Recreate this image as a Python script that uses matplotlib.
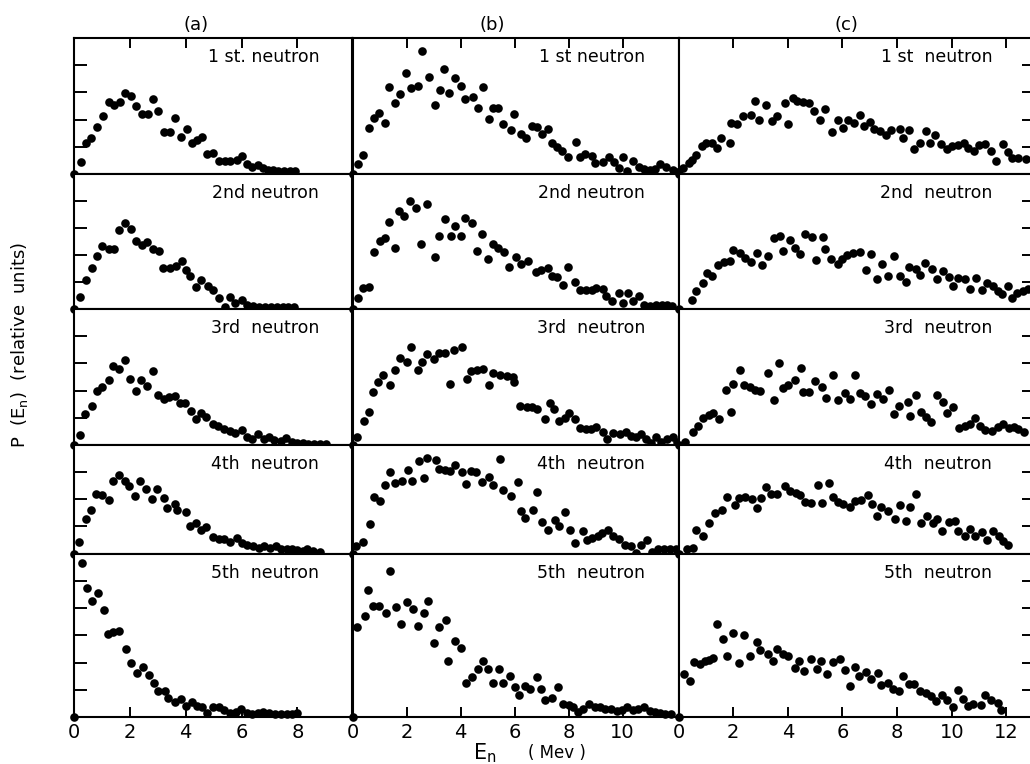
import numpy as np
import matplotlib.pyplot as plt

# neutron energy spectra, (E_n [MeV], P(E_n) [tick units]) per panel
# column (a)
a1 = [(0, 0), (0.24, 0.45), (0.44, 1.15), (0.62, 1.31), (0.84, 1.74), (1.04, 2.15), (1.24, 2.66), (1.44, 2.54),
      (1.65, 2.63), (1.83, 2.99), (2.04, 2.85), (2.22, 2.50), (2.42, 2.20), (2.64, 2.20), (2.82, 2.75), (3.02, 2.32),
      (3.21, 1.56), (3.42, 1.56), (3.62, 2.05), (3.84, 1.35), (4.05, 1.64), (4.23, 1.13), (4.41, 1.25), (4.59, 1.37),
      (4.76, 0.72), (4.98, 0.79), (5.19, 0.49), (5.40, 0.48), (5.60, 0.49), (5.82, 0.52), (6.00, 0.66), (6.18, 0.36),
      (6.39, 0.27), (6.59, 0.33), (6.77, 0.21), (6.95, 0.15), (7.13, 0.15), (7.31, 0.12), (7.52, 0.12), (7.73, 0.10),
      (7.91, 0.10)]
a2 = [(0, 0), (0.20, 0.43), (0.44, 1.08), (0.64, 1.53), (0.84, 1.95), (1.02, 2.32), (1.24, 2.24), (1.44, 2.21),
      (1.62, 2.92), (1.82, 3.19), (2.04, 2.96), (2.22, 2.51), (2.42, 2.36), (2.60, 2.48), (2.82, 2.21), (3.03, 2.15),
      (3.20, 1.53), (3.42, 1.53), (3.66, 1.59), (3.87, 1.78), (4.02, 1.45), (4.17, 1.22), (4.38, 0.81), (4.56, 1.08),
      (4.80, 0.87), (4.98, 0.71), (5.18, 0.40), (5.40, 0.09), (5.58, 0.43), (5.78, 0.21), (6.00, 0.34), (6.21, 0.16),
      (6.41, 0.12), (6.62, 0.09), (6.83, 0.06), (7.04, 0.06), (7.25, 0.06), (7.47, 0.06), (7.67, 0.06), (7.88, 0.06)]
a3 = [(0, 0), (0.22, 0.37), (0.40, 1.14), (0.66, 1.44), (0.82, 2.00), (1.00, 2.12), (1.24, 2.39), (1.38, 2.91),
      (1.62, 2.79), (1.83, 3.13), (2.00, 2.43), (2.22, 2.00), (2.40, 2.39), (2.61, 2.18), (2.82, 2.72), (3.02, 1.84),
      (3.21, 1.69), (3.39, 1.78), (3.60, 1.80), (3.80, 1.53), (3.98, 1.53), (4.20, 1.26), (4.38, 0.96), (4.53, 1.17),
      (4.74, 1.04), (4.98, 0.76), (5.16, 0.70), (5.37, 0.58), (5.58, 0.53), (5.78, 0.43), (6.00, 0.55), (6.18, 0.31),
      (6.39, 0.21), (6.57, 0.40), (6.80, 0.21), (6.98, 0.31), (7.17, 0.18), (7.40, 0.15), (7.59, 0.27), (7.79, 0.12),
      (7.97, 0.09), (8.19, 0.06), (8.39, 0.04), (8.60, 0.04), (8.81, 0.02), (9.02, 0.04)]
a4 = [(0, 0), (0.18, 0.42), (0.42, 1.29), (0.62, 1.60), (0.80, 2.21), (1.02, 2.17), (1.26, 1.99), (1.40, 2.69),
      (1.62, 2.91), (1.82, 2.69), (1.98, 2.48), (2.19, 2.13), (2.37, 2.69), (2.58, 2.39), (2.78, 2.01), (2.96, 2.38),
      (3.21, 2.05), (3.32, 1.66), (3.60, 1.84), (3.69, 1.60), (4.02, 1.53), (4.17, 1.03), (4.35, 1.13), (4.56, 0.85),
      (4.74, 0.97), (4.98, 0.60), (5.19, 0.54), (5.37, 0.52), (5.60, 0.42), (5.82, 0.58), (6.00, 0.39), (6.20, 0.33),
      (6.41, 0.27), (6.62, 0.21), (6.81, 0.27), (7.01, 0.21), (7.23, 0.29), (7.40, 0.15), (7.61, 0.15), (7.79, 0.15),
      (7.97, 0.12), (8.19, 0.09), (8.33, 0.17), (8.57, 0.09), (8.79, 0.06)]
a5 = [(0, 0), (0.28, 5.64), (0.45, 4.72), (0.63, 4.24), (0.85, 4.54), (1.07, 3.93), (1.23, 3.03), (1.41, 3.12),
      (1.62, 3.15), (1.86, 2.48), (2.03, 1.97), (2.24, 1.63), (2.48, 1.85), (2.69, 1.55), (2.87, 1.25), (2.99, 0.94),
      (3.24, 0.97), (3.38, 0.70), (3.62, 0.54), (3.83, 0.67), (4.00, 0.42), (4.21, 0.54), (4.39, 0.40), (4.60, 0.36),
      (4.75, 0.16), (4.99, 0.38), (5.19, 0.36), (5.37, 0.25), (5.59, 0.16), (5.79, 0.18), (5.98, 0.28), (6.19, 0.13),
      (6.39, 0.12), (6.60, 0.16), (6.78, 0.19), (6.98, 0.13), (7.20, 0.12), (7.40, 0.12), (7.62, 0.12), (7.82, 0.12),
      (7.98, 0.13)]

# column (b)
b1 = [(0, 0), (0.19, 0.37), (0.38, 0.70), (0.62, 1.70), (0.78, 2.07), (0.97, 2.26), (1.19, 1.89), (1.36, 3.19),
      (1.56, 2.62), (1.77, 2.94), (1.99, 3.73), (2.18, 3.17), (2.43, 3.25), (2.57, 4.51), (2.82, 3.56), (3.04, 2.53),
      (3.23, 3.09), (3.40, 3.86), (3.56, 2.96), (3.81, 3.54), (4.03, 3.23), (4.18, 2.74), (4.47, 2.84), (4.65, 2.41),
      (4.84, 3.19), (5.05, 2.04), (5.20, 2.41), (5.40, 2.41), (5.57, 1.83), (5.85, 1.63), (5.98, 2.22), (6.23, 1.46),
      (6.44, 1.33), (6.64, 1.77), (6.84, 1.73), (7.00, 1.46), (7.22, 1.64), (7.40, 1.14), (7.59, 0.99), (7.77, 0.83),
      (7.99, 0.64), (8.27, 1.17), (8.42, 0.64), (8.61, 0.74), (8.86, 0.68), (8.99, 0.40), (9.28, 0.43), (9.51, 0.64),
      (9.69, 0.43), (9.88, 0.21), (10.02, 0.64), (10.15, 0.12), (10.37, 0.49), (10.59, 0.27), (10.80, 0.19),
      (11.01, 0.15), (11.21, 0.19), (11.39, 0.37), (11.61, 0.25), (11.86, 0.15), (12.00, 0.06)]
b2 = [(0, 0), (0.19, 0.40), (0.38, 0.77), (0.62, 0.80), (0.80, 2.10), (1.03, 2.53), (1.21, 2.63), (1.34, 3.21),
      (1.58, 2.26), (1.71, 3.62), (1.89, 3.46), (2.12, 4.01), (2.35, 3.74), (2.55, 2.41), (2.76, 3.89), (3.04, 1.94),
      (3.22, 2.72), (3.42, 3.33), (3.63, 2.72), (3.79, 3.09), (4.03, 2.72), (4.18, 3.37), (4.41, 3.17), (4.62, 2.14),
      (4.80, 2.78), (5.02, 1.85), (5.20, 2.41), (5.40, 2.26), (5.61, 2.10), (5.79, 1.54), (6.04, 1.94), (6.23, 1.67),
      (6.51, 1.79), (6.78, 1.36), (6.97, 1.44), (7.25, 1.52), (7.40, 1.23), (7.59, 1.20), (7.80, 0.90), (7.99, 1.54),
      (8.24, 1.01), (8.42, 0.70), (8.64, 0.70), (8.86, 0.70), (9.01, 0.78), (9.26, 0.74), (9.38, 0.49), (9.60, 0.31),
      (9.85, 0.58), (10.02, 0.22), (10.19, 0.58), (10.40, 0.31), (10.62, 0.49), (10.80, 0.16), (11.01, 0.12),
      (11.24, 0.15), (11.46, 0.16), (11.63, 0.15), (11.83, 0.12)]
b3 = [(0, 0), (0.17, 0.31), (0.42, 0.90), (0.62, 1.20), (0.77, 1.94), (0.95, 2.31), (1.14, 2.59), (1.39, 2.22),
      (1.57, 2.75), (1.76, 3.21), (2.03, 3.05), (2.17, 3.60), (2.41, 2.75), (2.56, 3.05), (2.77, 3.33), (3.02, 3.15),
      (3.21, 3.40), (3.43, 3.40), (3.61, 2.25), (3.74, 3.49), (4.05, 3.60), (4.23, 2.41), (4.39, 2.72), (4.60, 2.74),
      (4.83, 2.81), (5.07, 2.19), (5.20, 2.63), (5.47, 2.59), (5.72, 2.52), (5.94, 2.49), (5.99, 2.33), (6.21, 1.44),
      (6.46, 1.39), (6.65, 1.39), (6.83, 1.31), (7.14, 0.96), (7.33, 1.54), (7.45, 1.31), (7.64, 0.90), (7.85, 0.98),
      (8.03, 1.17), (8.25, 0.96), (8.42, 0.64), (8.63, 0.59), (8.84, 0.59), (9.03, 0.68), (9.27, 0.46), (9.43, 0.21),
      (9.65, 0.44), (9.90, 0.41), (10.11, 0.49), (10.30, 0.33), (10.48, 0.31), (10.67, 0.41), (10.85, 0.21),
      (11.06, 0.06), (11.22, 0.31), (11.44, 0.12), (11.66, 0.21), (11.88, 0.31), (12.03, 0.12)]
b4 = [(0, 0), (0.12, 0.27), (0.40, 0.42), (0.64, 1.10), (0.79, 2.09), (1.01, 1.93), (1.20, 2.54), (1.39, 3.01),
      (1.57, 2.60), (1.82, 2.69), (2.07, 3.07), (2.19, 2.69), (2.48, 3.40), (2.63, 2.79), (2.77, 3.52), (3.09, 3.44),
      (3.22, 3.13), (3.43, 3.09), (3.61, 3.03), (3.80, 3.28), (4.05, 3.01), (4.21, 2.56), (4.39, 3.03), (4.58, 2.99),
      (4.79, 2.63), (5.04, 2.82), (5.22, 2.54), (5.47, 3.48), (5.59, 2.33), (5.88, 2.11), (6.11, 2.64), (6.25, 1.56),
      (6.37, 1.31), (6.67, 1.60), (6.83, 2.27), (7.02, 1.17), (7.23, 0.88), (7.49, 1.25), (7.66, 1.03), (7.85, 1.53),
      (8.07, 0.85), (8.23, 0.37), (8.54, 0.82), (8.69, 0.49), (8.87, 0.58), (9.08, 0.64), (9.25, 0.76), (9.46, 0.85),
      (9.65, 0.66), (9.86, 0.52), (10.09, 0.33), (10.30, 0.27), (10.48, 0.02), (10.67, 0.33), (10.89, 0.49),
      (11.10, 0.05), (11.31, 0.15), (11.53, 0.17), (11.76, 0.18), (11.97, 0.17)]
b5 = [(0, 0), (0.17, 3.32), (0.45, 3.69), (0.58, 4.65), (0.76, 4.06), (0.98, 4.06), (1.23, 3.81), (1.40, 5.35),
      (1.60, 4.03), (1.78, 3.42), (2.02, 4.22), (2.23, 3.96), (2.42, 3.35), (2.63, 3.81), (2.79, 4.27), (3.01, 2.73),
      (3.19, 3.30), (3.46, 3.57), (3.52, 2.07), (3.80, 2.80), (4.01, 2.52), (4.20, 1.23), (4.44, 1.45), (4.63, 1.75),
      (4.85, 2.05), (5.03, 1.75), (5.21, 1.23), (5.42, 1.75), (5.57, 1.23), (5.83, 1.50), (6.00, 1.11), (6.16, 0.80),
      (6.37, 1.13), (6.59, 1.02), (6.83, 1.48), (6.98, 1.01), (7.14, 0.64), (7.39, 0.68), (7.60, 1.11), (7.79, 0.46),
      (8.00, 0.43), (8.18, 0.37), (8.34, 0.18), (8.55, 0.31), (8.76, 0.46), (8.96, 0.37), (9.17, 0.37), (9.35, 0.31),
      (9.57, 0.31), (9.78, 0.22), (9.96, 0.25), (10.18, 0.37), (10.39, 0.25), (10.58, 0.31), (10.80, 0.37),
      (11.01, 0.22), (11.21, 0.18), (11.37, 0.15), (11.58, 0.12), (11.80, 0.12)]

# column (c)
c1 = [(0, 0), (0.18, 0.22), (0.37, 0.40), (0.49, 0.53), (0.65, 0.69), (0.85, 1.02), (1.01, 1.14), (1.22, 1.14),
      (1.40, 0.96), (1.56, 1.32), (1.87, 1.14), (1.93, 1.88), (2.13, 1.84), (2.35, 2.12), (2.66, 2.16), (2.80, 2.67),
      (2.96, 2.00), (3.21, 2.52), (3.41, 1.94), (3.60, 2.12), (3.88, 2.61), (4.02, 1.84), (4.18, 2.79), (4.35, 2.70),
      (4.57, 2.65), (4.79, 2.61), (4.96, 2.33), (5.18, 2.00), (5.37, 2.40), (5.63, 1.54), (5.85, 1.97), (6.01, 1.69),
      (6.22, 2.00), (6.43, 1.88), (6.65, 2.18), (6.80, 1.75), (7.01, 1.91), (7.16, 1.67), (7.38, 1.57), (7.60, 1.45),
      (7.77, 1.63), (8.09, 1.67), (8.23, 1.32), (8.45, 1.63), (8.63, 0.92), (8.84, 1.14), (9.06, 1.59), (9.21, 1.14),
      (9.39, 1.42), (9.60, 1.10), (9.82, 0.92), (10.00, 1.02), (10.21, 1.05), (10.43, 1.14), (10.61, 0.96),
      (10.83, 0.83), (11.01, 1.05), (11.22, 1.10), (11.43, 0.83), (11.62, 0.47), (11.87, 1.10), (12.04, 0.81),
      (12.20, 0.59), (12.44, 0.59), (12.72, 0.56)]
c2 = [(0, 0), (0.51, 0.34), (0.65, 0.68), (0.89, 0.95), (1.04, 1.32), (1.24, 1.22), (1.44, 1.62), (1.65, 1.74),
      (1.87, 1.78), (1.99, 2.17), (2.26, 2.07), (2.44, 1.90), (2.66, 1.74), (2.89, 2.07), (3.05, 1.62), (3.27, 1.95),
      (3.48, 2.63), (3.72, 2.72), (3.82, 2.15), (4.09, 2.56), (4.27, 2.27), (4.43, 2.02), (4.63, 2.78), (4.88, 2.66),
      (5.04, 1.80), (5.28, 2.68), (5.37, 2.23), (5.59, 1.87), (5.85, 1.68), (5.98, 1.87), (6.16, 1.99), (6.38, 2.07),
      (6.65, 2.11), (6.87, 1.46), (7.05, 2.02), (7.28, 1.10), (7.44, 1.68), (7.68, 1.22), (7.89, 1.95), (8.11, 1.22),
      (8.33, 1.01), (8.45, 1.56), (8.70, 1.50), (8.84, 1.26), (9.02, 1.71), (9.27, 1.50), (9.45, 1.10), (9.67, 1.41),
      (9.88, 1.20), (10.06, 0.85), (10.24, 1.13), (10.49, 1.10), (10.67, 0.73), (10.89, 1.13), (11.10, 0.71),
      (11.28, 0.95), (11.50, 0.85), (11.68, 0.65), (11.85, 0.56), (12.07, 0.85), (12.20, 0.40), (12.38, 0.59),
      (12.62, 0.65), (12.77, 0.73)]
c3 = [(0, 0), (0.24, 0.12), (0.52, 0.46), (0.73, 0.70), (0.91, 0.99), (1.10, 1.11), (1.28, 1.17), (1.50, 0.95),
      (1.74, 2.04), (1.93, 1.23), (1.99, 2.26), (2.26, 2.75), (2.40, 2.22), (2.60, 2.14), (2.80, 2.04), (2.99, 1.98),
      (3.29, 2.63), (3.50, 1.67), (3.66, 3.02), (3.84, 2.10), (4.02, 2.22), (4.27, 2.38), (4.49, 2.84), (4.57, 1.94),
      (4.79, 1.94), (5.00, 2.35), (5.24, 2.14), (5.40, 1.73), (5.67, 2.56), (5.85, 1.67), (6.10, 1.91), (6.28, 1.69),
      (6.46, 2.59), (6.65, 1.91), (6.83, 1.81), (7.05, 1.52), (7.26, 1.89), (7.50, 1.69), (7.71, 2.01), (7.87, 1.14),
      (8.05, 1.44), (8.38, 1.57), (8.48, 1.05), (8.70, 1.85), (8.87, 1.23), (9.06, 1.02), (9.23, 0.83), (9.45, 1.85),
      (9.67, 1.57), (9.84, 1.17), (10.06, 1.40), (10.28, 0.64), (10.49, 0.70), (10.67, 0.78), (10.85, 0.99),
      (11.04, 0.70), (11.22, 0.56), (11.46, 0.53), (11.68, 0.65), (11.89, 0.78), (12.11, 0.62), (12.26, 0.65),
      (12.44, 0.58), (12.65, 0.49)]
c4 = [(0, 0), (0.30, 0.16), (0.52, 0.22), (0.65, 0.86), (0.91, 0.65), (1.13, 1.11), (1.34, 1.48), (1.59, 1.60),
      (1.79, 2.10), (2.07, 1.80), (2.20, 2.05), (2.44, 2.07), (2.68, 2.01), (2.87, 1.68), (3.01, 2.05), (3.21, 2.47),
      (3.38, 2.20), (3.62, 2.20), (3.88, 2.48), (4.09, 2.32), (4.30, 2.22), (4.45, 2.17), (4.63, 1.89), (4.84, 1.85),
      (5.09, 2.53), (5.24, 1.85), (5.52, 2.59), (5.67, 2.10), (5.85, 1.89), (6.01, 1.83), (6.26, 1.70), (6.46, 1.95),
      (6.67, 1.98), (6.95, 2.14), (7.07, 1.83), (7.28, 1.40), (7.40, 1.70), (7.68, 1.56), (7.93, 1.27), (8.11, 1.80),
      (8.33, 1.21), (8.48, 1.73), (8.70, 2.20), (8.87, 1.11), (9.09, 1.40), (9.30, 1.11), (9.45, 1.27), (9.63, 0.84),
      (9.88, 1.15), (10.12, 1.21), (10.24, 0.84), (10.49, 0.65), (10.67, 0.90), (10.85, 0.65), (11.10, 0.78),
      (11.28, 0.49), (11.50, 0.84), (11.71, 0.65), (11.89, 0.47), (12.07, 0.32)]
c5 = [(0, 0), (0.21, 1.59), (0.43, 1.32), (0.55, 2.02), (0.79, 1.96), (0.97, 2.06), (1.13, 2.11), (1.25, 2.17),
      (1.40, 3.43), (1.62, 2.88), (1.76, 2.23), (2.01, 3.08), (2.23, 1.98), (2.40, 3.02), (2.62, 2.23), (2.86, 2.75),
      (3.00, 2.47), (3.28, 2.33), (3.44, 2.06), (3.59, 2.51), (3.81, 2.33), (4.01, 2.23), (4.26, 1.80), (4.42, 2.06),
      (4.59, 1.68), (4.83, 2.14), (5.05, 1.77), (5.23, 2.06), (5.44, 1.59), (5.66, 2.02), (5.90, 2.14), (6.11, 1.74),
      (6.27, 1.13), (6.45, 1.84), (6.61, 1.49), (6.87, 1.65), (7.06, 1.41), (7.30, 1.62), (7.42, 1.16), (7.66, 1.25),
      (7.85, 1.04), (8.07, 0.94), (8.21, 1.49), (8.43, 1.22), (8.61, 1.20), (8.82, 0.95), (9.04, 0.88), (9.25, 0.76),
      (9.43, 0.58), (9.65, 0.80), (9.82, 0.64), (10.04, 0.37), (10.22, 0.98), (10.40, 0.67), (10.58, 0.39),
      (10.79, 0.49), (11.07, 0.43), (11.23, 0.80), (11.44, 0.64), (11.68, 0.51), (11.80, 0.24)]

panels = [[a1, a2, a3, a4, a5], [b1, b2, b3, b4, b5], [c1, c2, c3, c4, c5]]

col_titles = ["(a)", "(b)", "(c)"]
row_labels = [
    ["1 st. neutron", "2nd neutron", "3rd  neutron", "4th  neutron", "5th  neutron"],
    ["1 st neutron", "2nd neutron", "3rd  neutron", "4th  neutron", "5th  neutron"],
    ["1 st  neutron", "2nd  neutron", "3rd  neutron", "4th  neutron", "5th  neutron"],
]
col_xmax = [9.97, 12.07, 13.0]
col_xticks = [[0, 2, 4, 6, 8], [0, 2, 4, 6, 8, 10], [0, 2, 4, 6, 8, 10, 12]]
row_ymax = [5, 5, 5, 4, 6]

W, H = 1030, 764
col_left = [74, 352.5, 678.5]
col_right = [352.5, 678.5, 1033.8]
row_top = [38, 174, 309, 445, 553.5]
row_bot = [174, 309, 445, 553.5, 717]
title_x = [196, 492, 846]

fig = plt.figure(figsize=(W / 100, H / 100), dpi=100)

for c in range(3):
    for r in range(5):
        l, rr = col_left[c], col_right[c]
        t, b = row_top[r], row_bot[r]
        ax = fig.add_axes([l / W, 1 - b / H, (rr - l) / W, (b - t) / H])
        pts = np.array(panels[c][r])
        ax.plot(pts[:, 0], pts[:, 1], 'o', color='black', ms=6.2, mew=0, clip_on=False, zorder=3)
        ax.set_xlim(0, col_xmax[c])
        ax.set_ylim(0, row_ymax[r])
        for s in ax.spines.values():
            s.set_linewidth(1.5)

        # x ticks only on the outer edges
        if r == 0:
            ax.set_xticks(col_xticks[c])
            ax.xaxis.set_ticks_position('top')
            ax.tick_params(axis='x', direction='in', length=7, width=1.4, labeltop=False, labelbottom=False)
        elif r == 4:
            ax.set_xticks(col_xticks[c])
            ax.tick_params(axis='x', direction='in', length=7, width=1.4, labelsize=14, pad=4)
        else:
            ax.set_xticks([])

        # y ticks on the left of (a) and the right of (c)
        ax.set_yticks(range(1, row_ymax[r]))
        ax.set_yticklabels([])
        if c == 0:
            ax.tick_params(axis='y', direction='in', length=9, width=1.4, left=True, right=False)
        elif c == 2:
            ax.tick_params(axis='y', direction='in', length=9, width=1.4, left=False, right=True)
        else:
            ax.tick_params(axis='y', left=False, right=False)

        off = -30 if c == 2 else -24
        ax.annotate(row_labels[c][r], xy=(1, 1), xycoords='axes fraction',
                    xytext=(off, -14), textcoords='offset points',
                    ha='right', va='center', fontsize=12.5)

for c in range(3):
    fig.text(title_x[c] / W, 1 - 25 / H, col_titles[c], ha='center', va='center', fontsize=13)

fig.text(20 / W, 1 - 345 / H, r"P  (E$_\mathrm{n}$)  (relative  units)", rotation=90,
         ha='center', va='center', fontsize=13)
fig.text(485 / W, 1 - 753 / H, r"E$_\mathrm{n}$", ha='center', va='center', fontsize=15)
fig.text(557 / W, 1 - 753 / H, "( Mev )", ha='center', va='center', fontsize=12)

fig.savefig("out.png", dpi=100)
